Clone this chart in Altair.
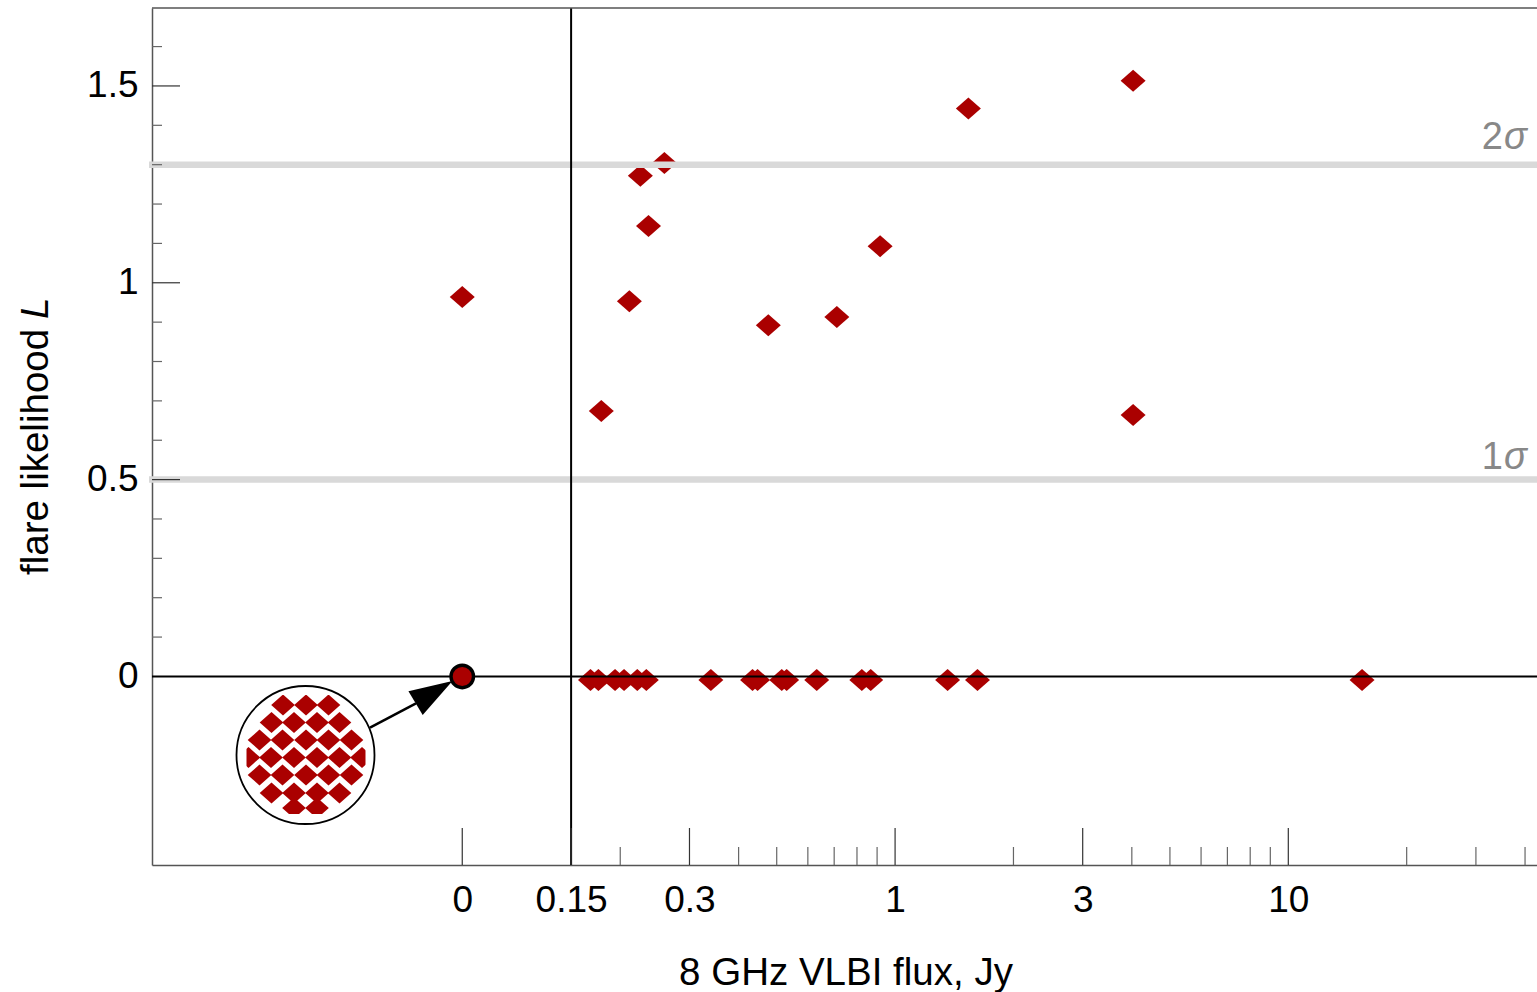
import altair as alt
import numpy as np
import pandas as pd

# ---------------------------------------------------------------- data
# sources with a nonzero flare likelihood: 8 GHz VLBI flux (Jy), likelihood L
flux_hi = [0.0, 0.179, 0.211, 0.225, 0.236, 0.259, 0.476, 0.711, 0.916, 1.536, 4.03, 4.03]
like_hi = [0.964, 0.674, 0.953, 1.272, 1.144, 1.304, 0.892, 0.913, 1.093, 1.443, 1.513, 0.664]

# sources with L = 0 (markers sit just under the zero line)
flux_lo = [0.168, 0.176, 0.194, 0.2045, 0.221, 0.233, 0.340, 0.434, 0.447,
           0.515, 0.530, 0.632, 0.823, 0.867, 1.36, 1.62, 15.4]
like_lo = -0.009

# significance levels
sigma_level = [0.5, 1.3]
sigma_name = ["1", "2"]
sigma_text_y = [0.527, 1.340]

# axis ticks
x_major = [0.0, 0.15, 0.3, 1, 3, 10]
x_minor = [0.2, 0.4, 0.5, 0.6, 0.7, 0.8, 0.9, 2, 4, 5, 6, 7, 8, 9, 20, 30, 40]
y_major = [0.5, 1.0, 1.5]
y_minor = [0.1, 0.2, 0.3, 0.4, 0.6, 0.7, 0.8, 0.9, 1.1, 1.2, 1.3, 1.4, 1.6]
y_labels = [0, 0.5, 1, 1.5]

# magnifier: rows of overlapping zero-flux sources (offsets in px from its centre)
inset_rows = [
    (-50.0, [-22.5, 0.5, 23.0]),
    (-32.5, [-34.0, -11.5, 11.5, 34.0]),
    (-15.0, [-46.0, -23.0, 0.5, 23.0, 46.0]),
    (2.5, [-57.0, -34.5, -11.5, 11.5, 34.0, 56.5]),
    (20.0, [-46.0, -23.0, 0.5, 23.0, 46.0]),
    (38.0, [-34.0, -11.5, 11.5, 34.0]),
    (53.0, [-11.5, 11.5]),
]

# ---------------------------------------------------------------- layout
W, H = 1385, 857
X_DOM = [0.01289, 42.9]
Y_DOM = [-0.479, 1.698]
ZERO_AT = 0.0793          # where flux = 0 is drawn on the log axis
RED = "#aa0000"
FONT = "Liberation Sans"
TICK_FS = 37
TITLE_FS = 38.5
DIAMOND = "M-1,0L0,-0.88L1,0L0,0.88Z"
ARROWHEAD = "M1,0L-1,-0.644L-1,0.644Z"

xs = alt.Scale(type="log", domain=X_DOM, nice=False)
ys = alt.Scale(domain=Y_DOM, nice=False, zero=False)


def place(f):
    return f if f > 0 else ZERO_AT


def x_at(px):
    lo, hi = np.log10(X_DOM)
    return float(10 ** (lo + px / W * (hi - lo)))


def y_at(py):
    return float(Y_DOM[1] - py / H * (Y_DOM[1] - Y_DOM[0]))


x_axis = alt.Axis(
    values=[place(v) for v in x_major],
    labelExpr="datum.value < 0.1 ? '0' : format(datum.value, '~g')",
    ticks=False, tickSize=0, grid=False, title=None,
    labelFontSize=TICK_FS, labelFont=FONT, labelColor="black", labelPadding=17,
    labelFlush=False, labelOverlap=False,
    domainColor="#555555", domainWidth=1.5,
)
y_axis = alt.Axis(
    values=y_labels, format="~g",
    ticks=False, tickSize=0, grid=False, title=None,
    labelFontSize=TICK_FS, labelFont=FONT, labelColor="black", labelPadding=14,
    labelFlush=False, labelOverlap=False,
    domainColor="#555555", domainWidth=1.5,
)


def X(field="x"):
    return alt.X(f"{field}:Q", scale=xs, axis=x_axis)


def Y(field="y"):
    return alt.Y(f"{field}:Q", scale=ys, axis=y_axis)


pts = pd.DataFrame({
    "x": [place(f) for f in flux_hi] + [place(f) for f in flux_lo],
    "y": like_hi + [like_lo] * len(flux_lo),
})

points = alt.Chart(pts).mark_point(
    shape=DIAMOND, filled=True, size=625, color=RED, opacity=1
).encode(x=X(), y=Y())

grid = alt.Chart(pd.DataFrame({"y": sigma_level})).mark_rule(
    color="#d9d9d9", strokeWidth=6.5
).encode(y=Y(), x=alt.value(-3), x2=alt.value(W))

zero_line = alt.Chart(pd.DataFrame({"y": [0.0]})).mark_rule(
    color="black", strokeWidth=2
).encode(y=Y(), x=alt.value(0), x2=alt.value(W))

cut_line = alt.Chart(pd.DataFrame({"x": [0.15]})).mark_rule(
    color="black", strokeWidth=2
).encode(x=X(), y=alt.value(0), y2=alt.value(H))

top_frame = alt.Chart(pd.DataFrame({"y": [Y_DOM[1]]})).mark_rule(
    color="#555555", strokeWidth=1.5
).encode(y=Y(), x=alt.value(0), x2=alt.value(W))

xt_major = alt.Chart(pd.DataFrame({"x": [place(v) for v in x_major]})).mark_rule(
    color="#333333", strokeWidth=1.2
).encode(x=X(), y=alt.value(H), y2=alt.value(H - 37))
xt_minor = alt.Chart(pd.DataFrame({"x": x_minor})).mark_rule(
    color="#666666", strokeWidth=1.2
).encode(x=X(), y=alt.value(H), y2=alt.value(H - 18))
yt_major = alt.Chart(pd.DataFrame({"y": y_major})).mark_rule(
    color="#333333", strokeWidth=1.2
).encode(y=Y(), x=alt.value(0), x2=alt.value(28))
yt_minor = alt.Chart(pd.DataFrame({"y": y_minor})).mark_rule(
    color="#666666", strokeWidth=1.2
).encode(y=Y(), x=alt.value(0), x2=alt.value(10))

zero_src = alt.Chart(pd.DataFrame({"x": [ZERO_AT], "y": [0.0]})).mark_point(
    shape="circle", filled=True, color=RED, stroke="black", strokeWidth=3.4,
    size=506, opacity=1
).encode(x=X(), y=Y())

# ---------------------------------------------------------------- magnifier
CX, CY, R = 153.5, 747.0, 69.0
CLIP_L, CLIP_R, CLIP_T, CLIP_B = -59.0, 60.0, -60.0, 59.0
inset_pts = pd.DataFrame(
    [{"x": x_at(CX + dx), "y": y_at(CY + dy)} for dy, row in inset_rows for dx in row]
)
inset_diamonds = alt.Chart(inset_pts).mark_point(
    shape=DIAMOND, filled=True, size=560, color=RED, opacity=1
).encode(x=X(), y=Y())

pad = R + 2
boxes = [
    (-pad, pad, -pad, CLIP_T),
    (-pad, pad, CLIP_B, pad),
    (-pad, CLIP_L, -pad, pad),
    (CLIP_R, pad, -pad, pad),
]
mask_df = pd.DataFrame([
    {"x": x_at(CX + a), "x2": x_at(CX + b), "y": y_at(CY + c), "y2": y_at(CY + d)}
    for a, b, c, d in boxes
])
masks = alt.Chart(mask_df).mark_rect(color="white", opacity=1).encode(
    x=X(), x2="x2:Q", y=Y(), y2="y2:Q"
)

lens = alt.Chart(pd.DataFrame({"x": [x_at(CX)], "y": [y_at(CY)]})).mark_point(
    shape="circle", filled=False, stroke="black", strokeWidth=1.8,
    size=(2 * R) ** 2, opacity=1
).encode(x=X(), y=Y())

arrow_line = alt.Chart(pd.DataFrame({
    "x": [x_at(218.0), x_at(264.0)], "y": [y_at(719.7), y_at(695.3)]
})).mark_line(color="black", strokeWidth=2.5).encode(x=X(), y=Y())

arrow_head = alt.Chart(pd.DataFrame({"x": [x_at(282.0)], "y": [y_at(684.0)]})).mark_point(
    shape=ARROWHEAD, filled=True, color="black", size=1849, angle=329, opacity=1
).encode(x=X(), y=Y())

# ---------------------------------------------------------------- text
sig_df = pd.DataFrame({"y": sigma_text_y, "n": sigma_name, "s": ["σ", "σ"]})
sig_num = alt.Chart(sig_df).mark_text(
    font=FONT, fontSize=38, color="#888888", align="right", baseline="alphabetic"
).encode(y=Y(), x=alt.value(1351), text="n:N")
sig_sym = alt.Chart(sig_df).mark_text(
    font=FONT, fontSize=38, fontStyle="italic", color="#888888", align="left",
    baseline="alphabetic"
).encode(y=Y(), x=alt.value(1352), text="s:N")

x_title = alt.Chart(pd.DataFrame({"t": ["8 GHz VLBI flux, Jy"]})).mark_text(
    font=FONT, fontSize=TITLE_FS, color="black", align="center", baseline="alphabetic"
).encode(text="t:N", x=alt.value(694), y=alt.value(977))

y_title = alt.Chart(pd.DataFrame({"t": ["flare likelihood"]})).mark_text(
    font=FONT, fontSize=TITLE_FS, color="black", align="left", baseline="alphabetic",
    angle=270
).encode(text="t:N", x=alt.value(-104), y=alt.value(567))
y_title_L = alt.Chart(pd.DataFrame({"t": ["L"]})).mark_text(
    font=FONT, fontSize=TITLE_FS, fontStyle="italic", color="black", align="left",
    baseline="alphabetic", angle=270
).encode(text="t:N", x=alt.value(-104), y=alt.value(311))

chart = alt.layer(
    points, grid, zero_line, cut_line, top_frame,
    xt_major, xt_minor, yt_major, yt_minor,
    zero_src,
    inset_diamonds, masks, lens, arrow_line, arrow_head,
    sig_num, sig_sym, x_title, y_title, y_title_L,
).properties(
    width=W, height=H,
    padding={"left": 152, "top": 8, "right": 0, "bottom": 127},
    autosize=alt.AutoSizeParams(type="none"),
    background="white",
).configure_view(stroke=None)

chart.save("out.html", embed_options={"renderer": "svg", "actions": False})
